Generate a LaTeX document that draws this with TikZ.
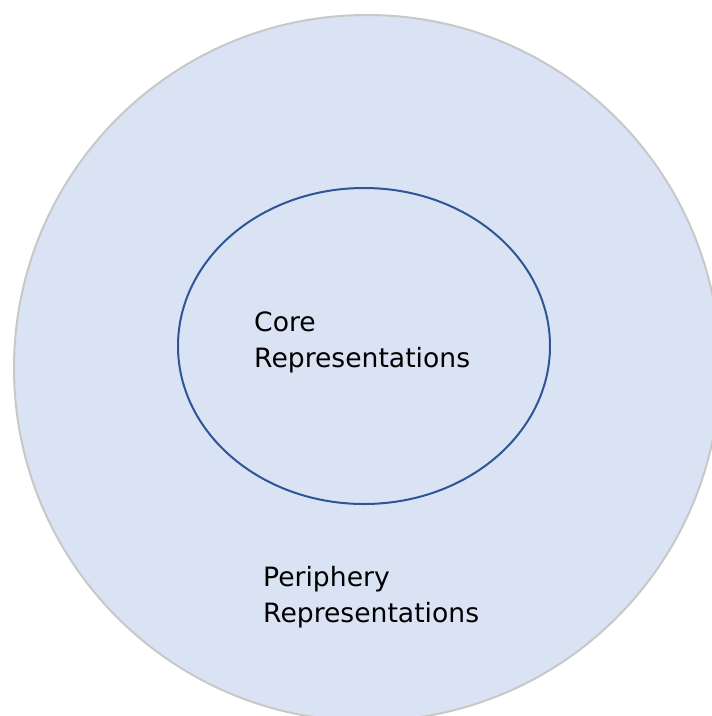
\documentclass[tikz,border=0pt]{standalone}
\usepackage{fontspec}
\setmainfont{DejaVu Sans}
\definecolor{fillblue}{HTML}{DAE3F3}
\definecolor{ringgray}{HTML}{C8C8C8}
\definecolor{coreblue}{HTML}{2F5597}
\begin{document}
\begin{tikzpicture}[x=1pt,y=-1pt,
  label/.style={anchor=base west,inner sep=0pt,align=left,font=\fontsize{26.6}{36}\selectfont}]
\useasboundingbox (0,0) rectangle (712,716);
\clip (0,0) rectangle (712,716);
\node[draw=ringgray,fill=fillblue,line width=2pt,circle,minimum size=706pt,inner sep=0pt] (outer) at (367,368) {};
\draw[coreblue,line width=2pt] (364,346) ellipse [x radius=186, y radius=158];
\node[label] (core) at (254,367) {Core\\Representations};
\node[label] (peri) at (263,622) {Periphery\\Representations};
\end{tikzpicture}
\end{document}
